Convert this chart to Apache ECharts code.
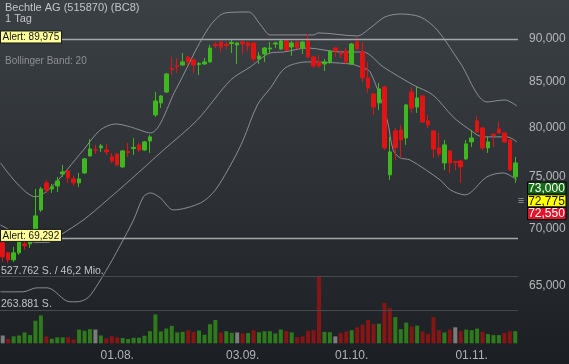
<!DOCTYPE html>
<html><head><meta charset="utf-8">
<script src="https://cdn.jsdelivr.net/npm/echarts@6/dist/echarts.min.js"></script>
<style>html,body{margin:0;padding:0;background:#2a2e33}#c{width:569px;height:364px}</style>
</head><body><div id="c"></div>
<script>
// ---------- data ----------
const dates = ['03.07.','04.07.','05.07.','08.07.','09.07.','10.07.','11.07.','12.07.','15.07.','16.07.','17.07.','18.07.','19.07.','22.07.','23.07.','24.07.','25.07.','26.07.','29.07.','30.07.','31.07.',
'01.08.','02.08.','05.08.','06.08.','07.08.','08.08.','09.08.','12.08.','13.08.','14.08.','15.08.','16.08.','19.08.','20.08.','21.08.','22.08.','23.08.','26.08.','27.08.','28.08.','29.08.','30.08.',
'02.09.','03.09.','04.09.','05.09.','06.09.','09.09.','10.09.','11.09.','12.09.','13.09.','16.09.','17.09.','18.09.','19.09.','20.09.','23.09.','24.09.','25.09.','26.09.','27.09.','30.09.',
'01.10.','02.10.','04.10.','07.10.','08.10.','09.10.','10.10.','11.10.','14.10.','15.10.','16.10.','17.10.','18.10.','21.10.','22.10.','23.10.','24.10.','25.10.','28.10.','29.10.','30.10.','31.10.',
'01.11.','04.11.','05.11.','06.11.','07.11.','08.11.','11.11.','12.11.','13.11.'];
const tickLabels = ['01.08.','03.09.','01.10.','01.11.'];

const opens = [68860,67960,67340,67960,68770,68770,70050,71910,74520,73930,
74220,75400,75700,74910,74520,75500,77210,77820,78030,77820,
77110,77410,76100,77670,77980,78340,77820,78750,81490,82790,
83990,86630,86980,87030,87950,87610,87090,87150,87380,89410,
89710,89410,89530,89350,89710,89590,89590,87720,88300,88880,
89470,88880,89820,89120,89710,89000,89820,87950,87380,87150,
87380,89000,88360,88650,87150,89710,88530,85560,83770,82790,
84550,75310,79790,79900,79060,83990,82350,83550,80850,79790,
78030,76500,77720,76650,76700,76910,78650,80850,80110,78030,
79430,80000,79580,78850,75110];
const closes = [67600,67340,67960,69130,68590,69220,71350,73930,73830,74130,
74710,75600,75010,74520,74910,76910,77920,77820,78230,77620,
76700,76300,77720,77570,78080,77820,78650,79170,83000,83550,
86010,86520,86860,87380,87380,87030,87200,87380,89000,89290,
89120,89290,89650,89590,89470,89240,87720,88070,89000,89000,
89590,89820,88770,89590,89000,89710,87950,86920,86920,87380,
88650,88650,88240,87380,89470,88880,85560,84440,82350,84330,
78030,77620,78030,78850,82570,82240,83330,80740,80430,77920,
77410,78340,76500,76550,76100,78440,79060,79690,78030,78650,
79320,79580,78650,75800,76500];
const lows = [67160,67070,67160,67780,68230,68410,69770,71730,73540,73540,
73640,75110,74520,74220,74130,75400,77110,77410,77620,77310,
76500,76200,76000,77110,77310,77620,77720,77520,81280,82240,
83880,85900,86120,86920,86920,86120,85900,87030,87320,89000,
88530,88880,88420,87150,88300,88650,87380,87150,87380,88300,
89000,88770,88650,88070,88880,88300,87900,86690,86690,86350,
87150,87950,87840,87150,87030,88770,85110,83880,81490,82030,
77820,74810,76800,77010,78340,81710,81710,80640,80110,77010,
77110,75800,75500,75800,74520,76800,78130,79580,77820,77520,
78130,79530,78540,75700,74520];
const highs = [69410,68050,68500,69770,69310,69680,73930,74130,74810,74420,
75110,76300,75800,75210,75500,77010,78960,78340,78440,78440,
77520,77520,77820,78540,79060,78540,78750,79380,83990,83660,
86120,87950,87840,88420,88070,87840,87380,87840,89350,89710,
89820,89710,89940,89650,89760,89710,89650,88530,89120,89710,
89710,89940,89940,89820,89820,89820,90660,88070,88190,87720,
88770,89120,88770,89000,89590,90300,89710,87380,83880,85000,
84660,79170,80110,80430,82680,84550,84550,83660,81490,79900,
79580,78850,77820,76700,76800,78850,79900,81380,80210,79170,
79580,80740,79640,78960,77110];

const volumes = [62000,34000,55000,62000,86000,65000,179000,221000,55000,36000,
47000,47000,49000,31000,109000,99000,112000,109000,62000,39000,
57000,47000,42000,34000,44000,44000,60000,96000,229000,94000,
117000,138000,86000,91000,104000,91000,101000,68000,151000,185000,
86000,96000,83000,86000,78000,81000,104000,88000,96000,96000,
78000,109000,96000,86000,49000,55000,99000,104000,527762,91000,
88000,55000,81000,94000,104000,127000,148000,185000,153000,156000,
320000,278000,208000,112000,164000,133000,140000,94000,73000,208000,
104000,86000,109000,127000,96000,109000,104000,117000,91000,73000,
65000,65000,83000,96000,96000];
// 1 = up (green), -1 = down (red), 0 = unchanged (grey)
const volDir = [0,-1,1,1,1,1,1,1,-1,1, 1,1,-1,-1,1,1,1,0,1,-1,
-1,-1,1,1,1,1,1,1,1,1, 1,1,1,1,-1,-1,1,1,1,1,
-1,1,1,0,-1,1,-1,1,1,1, 1,1,-1,1,-1,-1,-1,-1,-1,1,
1,0,-1,-1,1,-1,-1,-1,-1,1, -1,-1,1,1,1,-1,1,-1,-1,-1,
-1,1,-1,0,-1,1,1,1,-1,1, 1,1,-1,-1,1];

// Bollinger band (20): [bar index, price]
const upperBand = [[-0.4,76500],[6.0,73160],[8.8,74030],[14.8,77820],[17.9,79900],[20.7,80530],[23.4,80220],[27.1,79580],
[31.7,84210],[37.5,91130],[40.8,93200],[45.1,93320],[47.3,91740],[49.1,90540],[57.0,90540],[57.9,90780],[65.0,90420],
[67.4,91370],[70.1,92710],[72.9,93070],[76.6,92710],[79.7,91130],[83.9,87260],[88.8,82900],[92.1,83110],[94.3,82460]];
const middleBand = [[-0.4,70500],[3.3,69500],[6.0,68900],[8.2,68900],[10.6,69590],[14.8,70970],[19.2,72870],[23.4,74810],
[29.5,77820],[35.7,80960],[41.8,85330],[45.4,86800],[49.1,88420],[51.5,88530],[55.9,89000],[61.9,88530],[66.1,88530],
[69.8,86800],[75.3,84770],[78.9,83660],[82.6,81280],[85.2,80110],[88.1,79170],[92.5,79170],[94.3,78650]];
const lowerBand = [[-0.4,64560],[3.7,64560],[6.2,64900],[8.2,64900],[12.3,63720],[13.6,63720],[15.6,64050],[17.6,65330],
[20.1,67340],[21.6,68680],[24.0,70970],[25.8,73160],[27.1,73540],[28.9,73060],[31.3,71910],[36.3,72580],[39.0,73830],
[42.3,76800],[44.1,78850],[46.7,82570],[49.1,84440],[51.8,86690],[55.9,87380],[63.7,87150],[65.6,86800],[67.4,86230],
[70.5,80960],[71.6,77820],[72.9,77010],[74.7,76800],[80.2,74810],[82.1,73830],[84.8,73350],[88.8,75110],[91.8,75500],[94.3,74810]];

const priceTicks = [90000,85000,80000,75000,70000,65000];
const alerts = [89975,69292];
const quotes = [73000,72775,72550];
const volTicks = [527762,263881];
const volTickLabels = ['527.762 S. / 46,2 Mio.','263.881 S.'];

// ---------- chart ----------
const GREEN = '#3fb81f', RED = '#e21313';
const VGREEN = '#2f7a1d', VRED = '#861515', VGREY = '#7c7c7c';
const FONT = '"Liberation Sans", Arial, sans-serif';
const chart = echarts.init(document.getElementById('c'));

const candleData = opens.map((o, i) => [o, closes[i], lows[i], highs[i]]);
const volData = volumes.map((v, i) => ({
  value: v,
  itemStyle: { color: volDir[i] > 0 ? VGREEN : (volDir[i] < 0 ? VRED : VGREY) }
}));
const bandStyle = { color: 'rgba(150,153,157,0.9)', width: 1 };

chart.setOption({
  animation: false,
  backgroundColor: { type: 'linear', x: 0, y: 0, x2: 0, y2: 1,
    colorStops: [{ offset: 0, color: '#3b4045' }, { offset: 0.55, color: '#2c3035' }, { offset: 1, color: '#1b1e22' }] },
  grid: [
    { left: 0, width: 518, top: 0, height: 343 },
    { left: 0, width: 518, top: 276.7, height: 66.6 }
  ],
  xAxis: [
    { type: 'category', gridIndex: 0, data: dates, boundaryGap: true, show: false },
    { type: 'category', gridIndex: 1, data: dates, boundaryGap: true,
      axisLine: { show: false }, axisTick: { show: false }, splitLine: { show: false },
      axisLabel: { color: '#b2b4b6', fontSize: 12, fontFamily: FONT, margin: 6,
        interval: (i, v) => tickLabels.indexOf(v) >= 0 } },
    { type: 'value', gridIndex: 0, min: -0.5, max: dates.length - 0.5, show: false }
  ],
  yAxis: [
    { type: 'log', gridIndex: 0, min: 60355, max: 94802, show: false },
    { type: 'value', gridIndex: 1, min: 0, max: 527762, show: false }
  ],
  series: [
    { type: 'line', xAxisIndex: 2, yAxisIndex: 0, data: upperBand, smooth: 0.3, showSymbol: false, lineStyle: bandStyle, z: 1, silent: true },
    { type: 'line', xAxisIndex: 2, yAxisIndex: 0, data: middleBand, smooth: 0.3, showSymbol: false, lineStyle: bandStyle, z: 1, silent: true },
    { type: 'line', xAxisIndex: 2, yAxisIndex: 0, data: lowerBand, smooth: 0.3, showSymbol: false, lineStyle: bandStyle, z: 1, silent: true },
    { type: 'bar', xAxisIndex: 1, yAxisIndex: 1, data: volData, barWidth: 4, z: 2,
      markLine: { silent: true, symbol: 'none', label: { show: false },
        lineStyle: { color: '#464a4f', width: 1, type: 'solid' },
        data: volTicks.map(v => ({ yAxis: v })) } },
    { type: 'candlestick', xAxisIndex: 0, yAxisIndex: 0, data: candleData, barWidth: 4, z: 3,
      itemStyle: { color: GREEN, color0: RED, borderColor: GREEN, borderColor0: RED, borderWidth: 1 },
      markLine: { silent: true, symbol: 'none', label: { show: false },
        lineStyle: { color: '#a4a6a8', width: 1.3, type: 'solid' },
        data: alerts.map(v => ({ yAxis: v })) } }
  ]
});

const py = v => chart.convertToPixel({ yAxisIndex: 0 }, v);
const vy = v => chart.convertToPixel({ yAxisIndex: 1 }, v);
const g = [];
g.push({ type: 'text', x: 5, y: 2, style: { text: 'Bechtle AG (515870) (BC8)', fill: '#c4c6c8', font: '11px ' + FONT } });
g.push({ type: 'text', x: 5, y: 13, style: { text: '1 Tag', fill: '#c4c6c8', font: '11px ' + FONT } });
g.push({ type: 'text', x: 5, y: 56, style: { text: 'Bollinger Band: 20', fill: '#8e9194', font: '10px ' + FONT } });
alerts.forEach(v => {
  const y = py(v) - 2.7;
  g.push({ type: 'rect', shape: { x: 0.5, y: y - 6, width: 61, height: 12 }, style: { fill: '#ffff99', stroke: '#1a1a1a', lineWidth: 1 }, z: 10 });
  g.push({ type: 'text', x: 2.5, y: y + 0.5, style: { text: 'Alert: ' + v.toLocaleString('en-US'), fill: '#111', font: '10px ' + FONT, verticalAlign: 'middle' }, z: 11 });
});
priceTicks.forEach(v => {
  const y = py(v) - 1.2;
  g.push({ type: 'text', x: 529, y: y, style: { text: v.toLocaleString('en-US'), fill: '#b6b8ba', font: '12px ' + FONT, verticalAlign: 'middle' } });
});
const qFill = ['#166b16', '#ffff00', '#e3132b'], qText = ['#ffffff', '#111111', '#ffffff'];
const qc = py(quotes[1]);
quotes.forEach((v, k) => {
  const y = qc + (k - 1) * 12.8;
  g.push({ type: 'rect', shape: { x: 527.5, y: y - 6, width: 38.5, height: 12 }, style: { fill: qFill[k], stroke: '#000', lineWidth: 1 }, z: 10 });
  g.push({ type: 'text', x: 546.5, y: y + 0.5, style: { text: v.toLocaleString('en-US'), fill: qText[k], font: '12px ' + FONT, align: 'center', verticalAlign: 'middle' }, z: 11 });
});
g.push({ type: 'text', x: 521, y: qc, style: { text: '\u2261', fill: '#9a9c9e', font: '11px ' + FONT, align: 'center', verticalAlign: 'middle' } });
volTicks.forEach((v, k) => {
  g.push({ type: 'text', x: 1, y: vy(v) - 6, style: { text: volTickLabels[k], fill: '#c2c4c6', font: '10.5px ' + FONT, verticalAlign: 'middle' } });
});
chart.setOption({ graphic: g });
</script></body></html>
